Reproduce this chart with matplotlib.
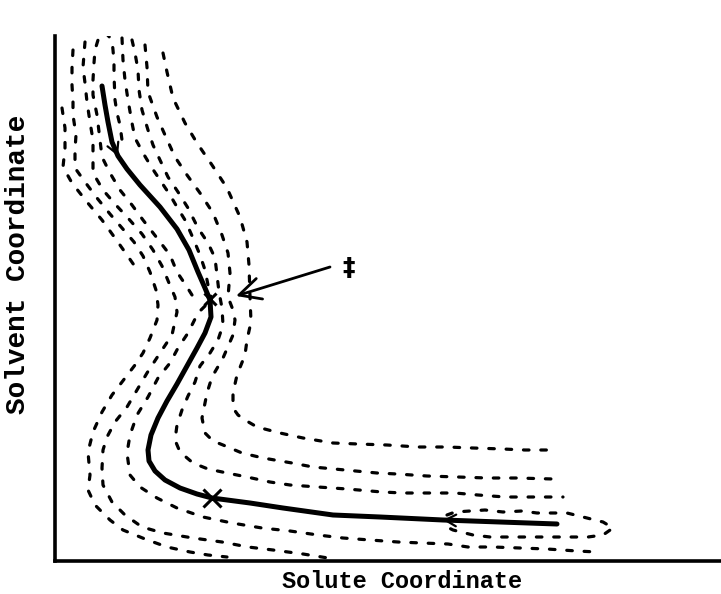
import matplotlib
matplotlib.use("Agg")
import matplotlib.pyplot as plt

plt.rcParams['lines.scale_dashes'] = False

# ---- data (pixel-space coordinates; y grows downward) ----
PATH_X = [102, 105, 108, 112, 118, 127, 140, 160, 177, 189, 198, 205, 210, 211, 205, 197, 187, 177,
          167, 158, 151, 148, 149, 155, 165, 180, 197, 212, 250, 283, 333, 380, 443, 500, 557]
PATH_Y = [86, 105, 122, 142, 156, 169, 185, 207, 229, 250, 272, 288, 300, 317, 333, 348, 366, 384,
          401, 418, 435, 450, 461, 471, 480, 488, 494, 498, 503, 508, 515, 517, 520, 522, 524]
PATH_ARROWS = [(3, 4), (33, 32)]   # (from index, to index) along the path

TOP_LOOP_X = [192, 187, 177, 170, 157, 143, 132, 120, 110, 102, 100, 97, 93, 93, 94, 95, 98, 105,
              112, 113, 114, 114, 115, 117, 120, 122]
TOP_LOOP_Y = [295, 287, 272, 255, 238, 220, 205, 190, 173, 157, 140, 115, 95, 80, 63, 50, 40, 32,
              40, 50, 62, 75, 100, 113, 125, 140]

L2_X = [85, 83, 85, 87, 90, 93, 93, 103, 115, 128, 142, 153, 162, 169, 175, 177, 172, 160, 147, 137,
        127, 115, 107, 103, 102, 103, 112, 125, 142, 163, 193, 222, 248, 273, 303, 328]
L2_Y = [42, 67, 83, 102, 122, 140, 173, 190, 204, 218, 234, 250, 266, 283, 297, 312, 335, 353, 373, 390,
        407, 422, 437, 450, 468, 485, 502, 515, 527, 533, 538, 542, 547, 550, 554, 558]

L3_X = [73, 72, 72, 73, 73, 76, 75, 75, 85, 97, 110, 122, 134, 143, 150, 156, 158, 157, 150, 143,
        135, 122, 112, 102, 93, 88, 90, 88, 95, 110, 123, 145, 167, 190, 208, 227]
L3_Y = [50, 68, 85, 102, 115, 135, 150, 168, 182, 198, 214, 228, 242, 256, 272, 290, 305, 320, 338, 353,
        365, 382, 395, 412, 432, 452, 475, 490, 505, 520, 530, 539, 547, 552, 555, 557]

L4_X = [62, 65, 65, 63, 72, 87, 102, 115, 127, 136]
L4_Y = [108, 128, 148, 167, 183, 202, 220, 238, 255, 268]

LA_X = [205, 198, 188, 178, 170, 158, 148, 137, 130, 127, 130, 140, 157, 177, 203, 232, 262, 290, 318,
        343, 370, 398, 422, 448, 468, 493, 520, 547, 577, 597]
LA_Y = [306, 313, 333, 348, 363, 378, 397, 415, 435, 453, 475, 487, 498, 508, 517, 523, 528, 531, 535,
        538, 540, 542, 543, 544, 547, 547, 548, 549, 551, 552]

RD_X = [122, 123, 125, 128, 132, 135, 143, 152, 162, 170, 177, 185, 193, 200, 205, 208, 211]
RD_Y = [38, 60, 80, 100, 123, 138, 153, 168, 183, 195, 207, 220, 238, 255, 270, 285, 297]

RA_X = [132, 135, 138, 139, 142, 148, 153, 160, 168, 178, 188, 198, 208, 215, 217, 219, 222, 223, 218,
        210, 200, 195, 188, 182, 177, 175, 180, 193, 208, 227, 247, 270, 290, 318, 347, 382, 403, 430,
        455, 478, 505, 530, 563]
RA_Y = [40, 53, 70, 90, 110, 130, 145, 160, 177, 192, 208, 228, 243, 258, 275, 292, 308, 325, 340,
        353, 366, 382, 396, 410, 425, 440, 452, 463, 469, 473, 477, 482, 485, 487, 489, 492, 493, 493,
        493, 495, 497, 497, 497]

RB_X = [145, 147, 148, 157, 165, 175, 187, 200, 213, 222, 228, 230, 228, 233, 235, 233, 223, 212, 207,
        202, 205, 213, 223, 242, 263, 292, 313, 345, 377, 397, 427, 458, 487, 517, 553]
RB_Y = [45, 67, 92, 117, 135, 157, 175, 193, 213, 235, 253, 273, 297, 310, 320, 335, 358, 377, 393,
        418, 433, 441, 445, 453, 458, 463, 467, 470, 473, 474, 476, 477, 478, 478, 479]

RC_X = [163, 167, 173, 185, 197, 212, 227, 240, 247, 249, 250, 251, 247, 245, 237, 233, 233, 238, 245,
        257, 280, 303, 333, 358, 387, 418, 447, 473, 503, 525, 555]
RC_Y = [53, 72, 98, 123, 143, 165, 188, 217, 242, 265, 297, 322, 340, 355, 375, 393, 408, 415, 420,
        427, 433, 438, 443, 444, 445, 447, 447, 448, 449, 450, 450]

PB_X = [447, 455, 470, 485, 503, 522, 537, 552, 567, 583, 603, 613, 603, 588, 568, 547, 527, 503, 490,
        473, 453, 447]
PB_Y = [515, 512, 511, 510, 512, 511, 513, 513, 513, 517, 522, 528, 535, 537, 537, 537, 537, 537, 537,
        535, 530, 527]

CONTOURS = [(TOP_LOOP_X, TOP_LOOP_Y), (L2_X, L2_Y), (L3_X, L3_Y), (L4_X, L4_Y), (LA_X, LA_Y),
            (RD_X, RD_Y), (RA_X, RA_Y), (RB_X, RB_Y), (RC_X, RC_Y), (PB_X, PB_Y)]

MARK_X = [210, 212]
MARK_Y = [299, 498]
MARK_SIZE = [9, 13]

TS_ARROW_FROM = (330, 267)
TS_ARROW_TO = (236, 296)
TS_LABEL = "\u2021"
TS_LABEL_POS = (349, 268)

XLABEL = "Solute Coordinate"
YLABEL = "Solvent Coordinate"

# ---- figure ----
W, H = 721, 594
fig = plt.figure(figsize=(W / 100, H / 100), dpi=100)
ax = fig.add_axes([55 / W, (H - 561) / H, (W - 55) / W, (561 - 36) / H])
ax.set_xlim(55, W)
ax.set_ylim(561, 36)
for s in ['top', 'right']:
    ax.spines[s].set_visible(False)
for s in ['left', 'bottom']:
    ax.spines[s].set_linewidth(2.6)
    ax.spines[s].set_color('black')
ax.set_xticks([])
ax.set_yticks([])

for cx, cy in CONTOURS:
    ax.plot(cx, cy, color='black', lw=2.3, linestyle=(0, (4.0, 8.5)),
            dash_capstyle='round', solid_capstyle='round')

ax.plot(PATH_X, PATH_Y, color='black', lw=3.6, solid_capstyle='round', solid_joinstyle='round')

for i0, i1 in PATH_ARROWS:
    ax.annotate('', xy=(PATH_X[i1], PATH_Y[i1]), xytext=(PATH_X[i0], PATH_Y[i0]),
                arrowprops=dict(arrowstyle='->,head_length=0.55,head_width=0.3', lw=1.6,
                                color='black', shrinkA=0, shrinkB=0, mutation_scale=14))

for mx, my, ms in zip(MARK_X, MARK_Y, MARK_SIZE):
    ax.plot([mx], [my], marker='x', color='black', markersize=ms, markeredgewidth=2.2)

ax.annotate('', xy=TS_ARROW_TO, xytext=TS_ARROW_FROM,
            arrowprops=dict(arrowstyle='->,head_length=0.7,head_width=0.35', lw=2.0,
                            color='black', shrinkA=0, shrinkB=0, mutation_scale=22))
ax.text(TS_LABEL_POS[0], TS_LABEL_POS[1], TS_LABEL, ha='center', va='center',
        fontsize=18, fontweight='bold', family='DejaVu Sans')

fig.text(402 / W, 1 - 582 / H, XLABEL, ha='center', va='center',
         family='Liberation Mono', fontsize=17, fontweight='bold')
fig.text(18 / W, 1 - 264 / H, YLABEL, ha='center', va='center', rotation=90,
         family='Liberation Mono', fontsize=20, fontweight='bold')

fig.savefig('out.png', dpi=100)
